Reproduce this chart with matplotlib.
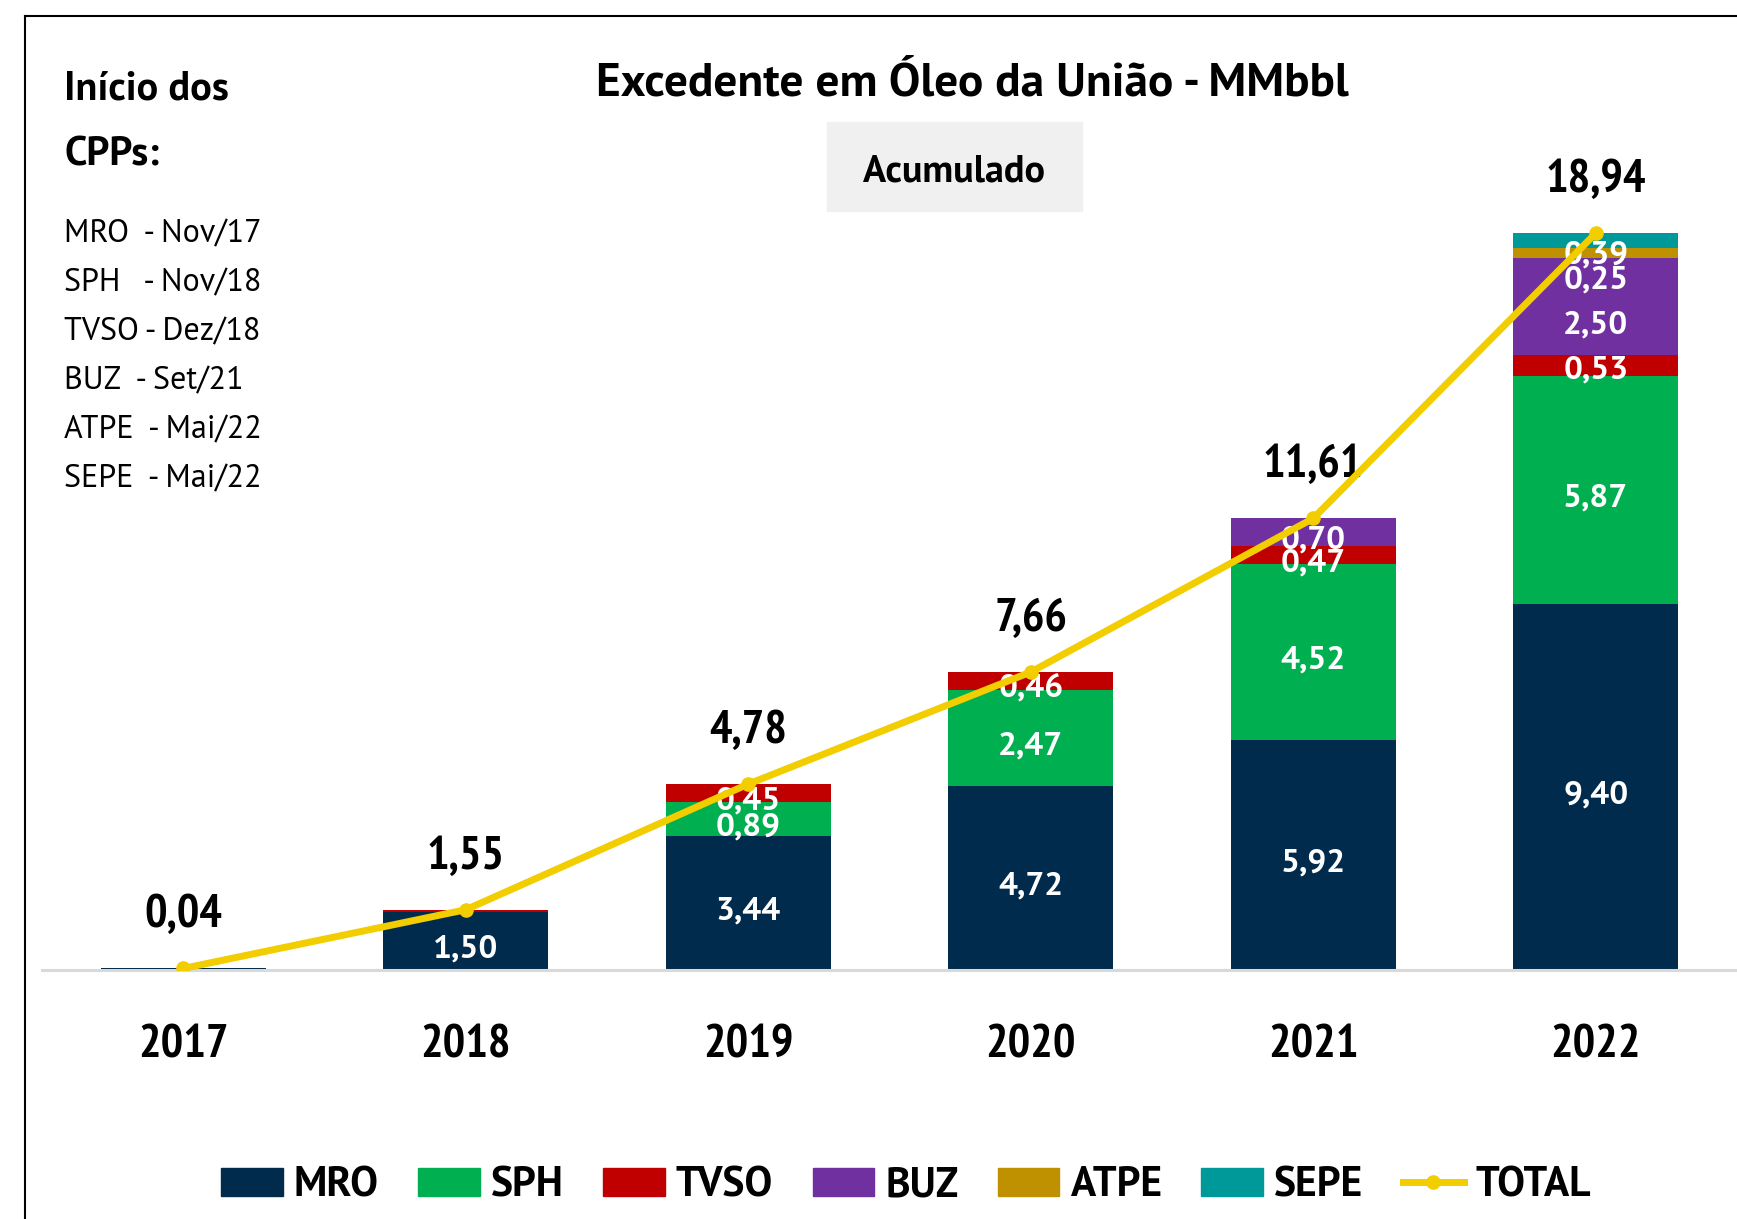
import numpy as np
import matplotlib.pyplot as plt
import matplotlib.transforms as mtransforms
from matplotlib.lines import Line2D
from matplotlib.patches import Rectangle, Patch

plt.rcParams['font.family'] = ['PT Sans', 'DejaVu Sans']
NARROW = ['PT Sans Narrow', 'DejaVu Sans']

# data (MMbbl, accumulated)
years = ['2017', '2018', '2019', '2020', '2021', '2022']
series = ['MRO', 'SPH', 'TVSO', 'BUZ', 'ATPE', 'SEPE']
mro = [0.04, 1.50, 3.44, 4.72, 5.92, 9.40]
sph = [0.00, 0.00, 0.89, 2.47, 4.52, 5.87]
tvso = [0.00, 0.05, 0.45, 0.46, 0.47, 0.53]
buz = [0.00, 0.00, 0.00, 0.00, 0.70, 2.50]
atpe = [0.00, 0.00, 0.00, 0.00, 0.00, 0.25]
sepe = [0.00, 0.00, 0.00, 0.00, 0.00, 0.39]
total = [0.04, 1.55, 4.78, 7.66, 11.61, 18.94]
cpp_start = ['MRO  - Nov/17', 'SPH   - Nov/18', 'TVSO - Dez/18',
             'BUZ  - Set/21', 'ATPE  - Mai/22', 'SEPE  - Mai/22']

colors = ['#002B4C', '#00B050', '#C00000', '#7030A0', '#BF9000', '#009999']
yellow = '#F2CD00'

W, H = 1737, 1219
fig = plt.figure(figsize=(W / 100, H / 100), dpi=100)
ax = fig.add_axes([42 / W, 1 - 970 / H, 1 - 42 / W, 22 * 38.9 / H])
ax.set_facecolor('none')

x = np.arange(len(years))
vals = [mro, sph, tvso, buz, atpe, sepe]
bottom = np.zeros(len(years))
# excel pushed the crowded labels on the last bar around a bit
nudge = {(5, 'TVSO'): 0.1, (5, 'BUZ'): -0.26, (5, 'ATPE'): -0.49, (5, 'SEPE'): -0.15}
for name, v, c in zip(series, vals, colors):
    v = np.array(v)
    ax.bar(x, v, 0.585, bottom=bottom, color=c, zorder=2)
    for i in range(1, len(x)):
        if v[i] >= 0.2:
            yy = bottom[i] + v[i] / 2 + nudge.get((i, name), 0)
            ax.annotate(f'{v[i]:.2f}'.replace('.', ','), (x[i], yy), xytext=(0, -12),
                        textcoords='offset points', ha='center', va='baseline',
                        color='white', fontsize=24, fontweight='bold', zorder=3)
    bottom += v

ax.plot(x, total, color=yellow, lw=5, marker='o', ms=9.5, zorder=4)
for i, t in enumerate(total):
    ax.annotate(f'{t:.2f}'.replace('.', ','), (x[i], t), xytext=(0, 29.5), textcoords='offset points',
                ha='center', va='baseline', fontsize=34, fontweight='bold', color='black',
                family=NARROW)

ax.set_xlim(-0.5, 5.5)
ax.set_ylim(0, 22)
ax.set_yticks([])
ax.set_xticks([])
for s in ['top', 'right', 'left']:
    ax.spines[s].set_visible(False)
ax.spines['bottom'].set_color('#D9D9D9')
ax.spines['bottom'].set_linewidth(2.2)

# year labels
trans = mtransforms.blended_transform_factory(ax.transData, fig.transFigure)
for i, yr in enumerate(years):
    ax.text(x[i], 1 - 1058 / H, yr, transform=trans, ha='center', va='baseline',
            fontsize=34, fontweight='bold', family=NARROW)

# frame
fig.add_artist(Line2D([25 / W, 25 / W], [0, 1 - 16 / H], color='black', lw=1.5))
fig.add_artist(Line2D([25 / W, 1], [1 - 16 / H, 1 - 16 / H], color='black', lw=1.5))

fig.text(972 / W, 1 - 96 / H, 'Excedente em Óleo da União - MMbbl', ha='center', va='baseline',
         fontsize=34, fontweight='bold')
fig.add_artist(Rectangle((827 / W, 1 - 211 / H), 255 / W, 89 / H, color='#F0F0F0', zorder=1))
fig.text(954 / W, 1 - 182 / H, 'Acumulado', ha='center', va='baseline', fontsize=27.5, fontweight='bold')

fig.text(64 / W, 1 - 100 / H, 'Início dos', ha='left', va='baseline', fontsize=29, fontweight='bold')
fig.text(64 / W, 1 - 166 / H, 'CPPs:', ha='left', va='baseline', fontsize=29, fontweight='bold')
ys = [242, 291, 340, 389, 438, 487]
for s, yy in zip(cpp_start, ys):
    fig.text(64 / W, 1 - yy / H, s, ha='left', va='baseline', fontsize=23)

handles = [Patch(color=c, label=n) for n, c in zip(series, colors)]
handles.append(Line2D([], [], color=yellow, lw=5, marker='o', ms=9.5, label='TOTAL'))
fig.legend(handles=handles, loc='center', bbox_to_anchor=(906 / W, 1 - 1186 / H), ncol=7, frameon=False,
           prop={'size': 30, 'weight': 'bold'}, handlelength=1.47, handleheight=0.67,
           handletextpad=0.27, columnspacing=0.95)

fig.savefig('out.png', dpi=100)
